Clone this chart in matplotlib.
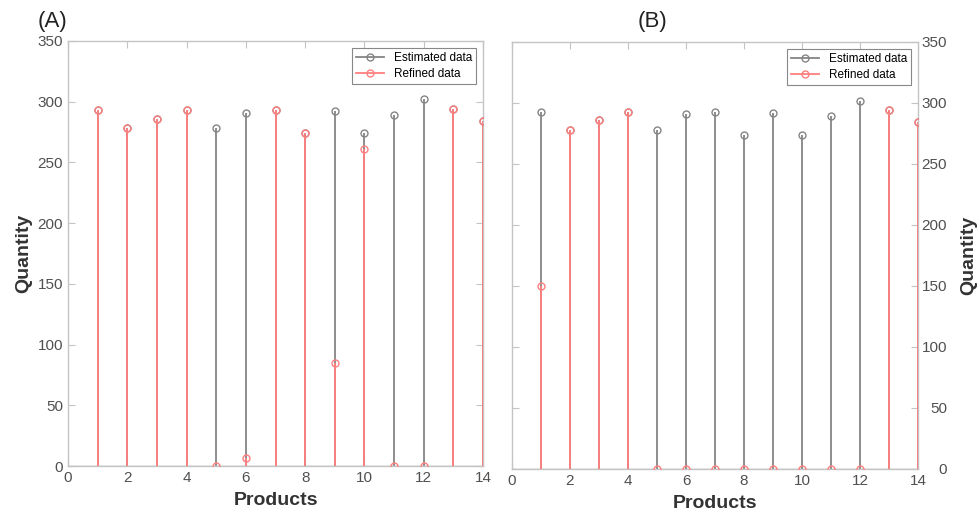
import matplotlib
matplotlib.use("Agg")
import matplotlib.pyplot as plt
import numpy as np

plt.rcParams['font.family'] = ['Liberation Sans', 'DejaVu Sans']

products = np.arange(1, 15)
estimated = [293, 278, 286, 293, 278, 291, 293, 274, 292, 274, 289, 302, 294, 284]
refined_a = [293, 278, 286, 293, 0, 7, 293, 274, 85, 261, 0, 0, 294, 284]
refined_b = [150, 278, 286, 293, 0, 0, 0, 0, 0, 0, 0, 0, 294, 284]
x_ticks = [0, 2, 4, 6, 8, 10, 12, 14]
y_ticks = [0, 50, 100, 150, 200, 250, 300, 350]

EST_C = '#858585'
REF_C = '#ff7f7f'
AX_C = '#c4c4c4'
TXT_C = '#505050'


def stem_panel(ax, est, ref, side):
    ax.vlines(products, 0, est, color=EST_C, lw=1.3, zorder=2)
    ax.plot(products, est, 'o', mfc='none', mec=EST_C, ms=5, mew=1.0, zorder=3)
    ax.vlines(products, 0, ref, color=REF_C, lw=1.3, zorder=4)
    ax.plot(products, ref, 'o', mfc='none', mec=REF_C, ms=5, mew=1.0, zorder=5)
    ax.axhline(0, color='#a8a8a8', lw=1.0, zorder=1)

    ax.set_xlim(0, 14)
    ax.set_ylim(0, 350)
    ax.set_xticks(x_ticks)
    ax.set_yticks(y_ticks)
    ax.tick_params(direction='in', length=5, color=AX_C, labelcolor=TXT_C,
                   labelsize=11, top=True, right=True, left=True)
    if side == 'right':
        ax.yaxis.tick_right()
        ax.tick_params(axis='y', left=True, direction='in', length=5, color=AX_C, pad=21)
        for lab in ax.get_yticklabels():
            lab.set_horizontalalignment('right')
        ax.yaxis.set_label_position('right')
        ax.yaxis.set_label_coords(1.105, 0.5)
    else:
        ax.yaxis.set_label_coords(-0.085, 0.5)
    for s in ax.spines.values():
        s.set_color(AX_C)
        s.set_linewidth(1.0)
    ax.set_xlabel('Products', fontsize=14, fontweight='bold', color='#333333', labelpad=5)
    ax.set_ylabel('Quantity', fontsize=14, fontweight='bold', color='#333333', rotation=90)

    h1, = ax.plot([], [], '-o', color=EST_C, mfc='none', ms=5, lw=1.3)
    h2, = ax.plot([], [], '-o', color=REF_C, mfc='none', ms=5, lw=1.3)
    leg = ax.legend([h1, h2], ['Estimated data', 'Refined data'], loc='upper right',
                    fontsize=8.5, numpoints=1, fancybox=False, framealpha=1,
                    edgecolor='#888888', borderpad=0.35, labelspacing=0.3,
                    handlelength=2.4, borderaxespad=0.6)
    leg.get_frame().set_linewidth(0.8)


fig = plt.figure(figsize=(9.78, 5.13), dpi=100)
ax_a = fig.add_axes([0.0695, 0.0916, 0.4244, 0.8285])
ax_b = fig.add_axes([0.5235, 0.0858, 0.4152, 0.8324])

stem_panel(ax_a, estimated, refined_a, 'left')
stem_panel(ax_b, estimated, refined_b, 'right')

fig.text(0.038, 0.958, '(A)', fontsize=16, color='#222222', va='center')
fig.text(0.652, 0.958, '(B)', fontsize=16, color='#222222', va='center')

fig.savefig('out.png', dpi=100)
